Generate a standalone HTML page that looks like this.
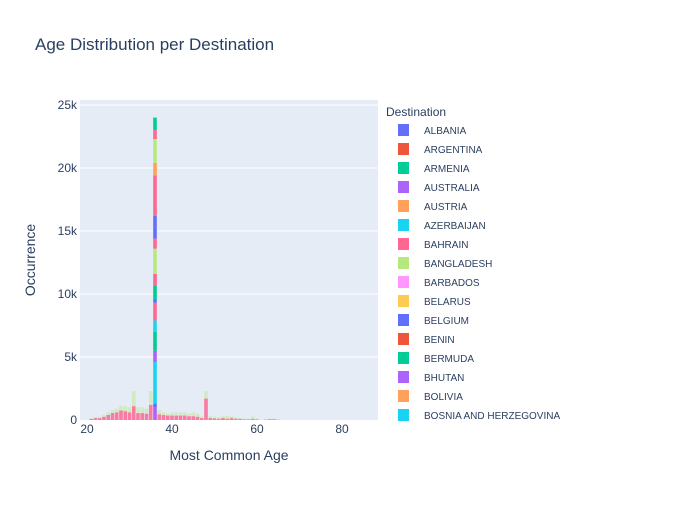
<!DOCTYPE html>
<html><head><meta charset="utf-8"><style>
body{margin:0;background:#fff;font-family:"Liberation Sans",sans-serif;}
svg text{font-family:"Liberation Sans",sans-serif;fill:#2a3f5f;}
</style></head><body>
<svg width="700" height="500" viewBox="0 0 700 500" xmlns="http://www.w3.org/2000/svg">
<rect x="0" y="0" width="700" height="500" fill="#fff"/>
<text x="35" y="50" font-size="17">Age Distribution per Destination</text>
<rect x="80" y="100" width="298" height="320" fill="#E5ECF6"/>
<g id="grid"></g>
<g id="bars"></g>
<g id="ticks"></g>
<text x="229" y="460" font-size="14" text-anchor="middle">Most Common Age</text>
<text x="35" y="260" font-size="14" text-anchor="middle" transform="rotate(-90 35 260)">Occurrence</text>
<text x="386" y="116" font-size="12">Destination</text>
<g id="legend"></g>
</svg>
<script>
const ages=[21,22,23,24,25,26,27,28,29,30,31,32,33,34,35,37,38,39,40,41,42,43,44,45,46,47,48,49,50,51,52,53,54,55,56,57,58,59,60,62,63,64,65];
const pinkVals=[0.08,0.15,0.15,0.25,0.4,0.55,0.6,0.75,0.7,0.6,1.1,0.55,0.55,0.5,1.2,0.45,0.4,0.35,0.35,0.35,0.35,0.35,0.3,0.3,0.25,0.15,1.7,0.15,0.12,0.1,0.15,0.1,0.15,0.1,0.08,0.05,0.05,0.08,0.05,0.03,0.06,0.06,0.02];
const lightVals=[0.05,0.08,0.1,0.15,0.2,0.25,0.3,0.35,0.4,0.4,1.2,0.45,0.45,0.4,1.1,0.35,0.2,0.15,0.25,0.25,0.25,0.25,0.2,0.3,0.25,0.15,0.6,0.15,0.15,0.1,0.15,0.2,0.15,0.1,0.1,0.05,0.05,0.2,0.05,0.03,0.04,0.04,0.03];
const tallAge=36;
const tallColors=["#AB63FA","#636EFA","#19D3F3","#AB63FA","#00CC96","#19D3F3","#FF6692","#636EFA","#00CC96","#FF6692","#B6E880","#FF6692","#636EFA","#FF6692","#FFA15A","#B6E880","#FF6692","#00CC96"];
const tallVals=[1.0,0.3,3.3,0.9,1.5,0.9,1.4,0.3,1.1,0.9,2.0,0.8,1.8,3.2,1.0,1.9,0.7,1.0];
const yTicks=[0,5,10,15,20,25];
const yTickLabels=["0","5k","10k","15k","20k","25k"];
const xTicks=[20,40,60,80];
const legendNames=["ALBANIA","ARGENTINA","ARMENIA","AUSTRALIA","AUSTRIA","AZERBAIJAN","BAHRAIN","BANGLADESH","BARBADOS","BELARUS","BELGIUM","BENIN","BERMUDA","BHUTAN","BOLIVIA","BOSNIA AND HERZEGOVINA"];
const palette=["#636EFA","#EF553B","#00CC96","#AB63FA","#FFA15A","#19D3F3","#FF6692","#B6E880","#FF97FF","#FECB52"];
const NS="http://www.w3.org/2000/svg";
const xs=a=>87+(a-20)*4.25;
const ys=v=>420-v*12.6;
function mk(tag,attrs,parent){const e=document.createElementNS(NS,tag);for(const k in attrs)e.setAttribute(k,attrs[k]);document.getElementById(parent).appendChild(e);return e;}
yTicks.forEach((t,i)=>{
  if(t>0){const l=mk('line',{x1:80,x2:378,y1:ys(t),y2:ys(t),stroke:'#fff','stroke-width':1},'grid');
  
  }
  const tx=mk('text',{x:77,y:ys(t)+4,'font-size':12,'text-anchor':'end'},'ticks');tx.textContent=yTickLabels[i];
  
  
});
xTicks.forEach(t=>{
  const tx=mk('text',{x:xs(t),y:433,'font-size':12,'text-anchor':'middle'},'ticks');tx.textContent=t;
  
  
});
const bw=3.6;
ages.forEach((a,i)=>{
  const x=xs(a)-bw/2;
  const p=mk('rect',{x:x,y:ys(pinkVals[i]),width:bw,height:ys(0)-ys(pinkVals[i]),fill:'#FF6692','fill-opacity':0.85},'bars');
  
  
  const t=pinkVals[i]+lightVals[i];
  const l=mk('rect',{x:x,y:ys(t),width:bw,height:ys(pinkVals[i])-ys(t),fill:'#B6E880','fill-opacity':0.45},'bars');
  
  
});
let acc=0;
tallVals.forEach((v,i)=>{
  const r=mk('rect',{x:xs(tallAge)-bw/2,y:ys(acc+v),width:bw,height:ys(acc)-ys(acc+v),fill:tallColors[i]},'bars');
  
  
  acc+=v;
});
legendNames.forEach((n,i)=>{
  const y=130+i*19;
  const s=mk('rect',{x:398,y:y-6,width:11,height:12,fill:palette[i%10]},'legend');
  
  
  const t=mk('text',{x:424,y:y+4,'font-size':10},'legend');t.textContent=n;
  
  
});
</script>
</body></html>
